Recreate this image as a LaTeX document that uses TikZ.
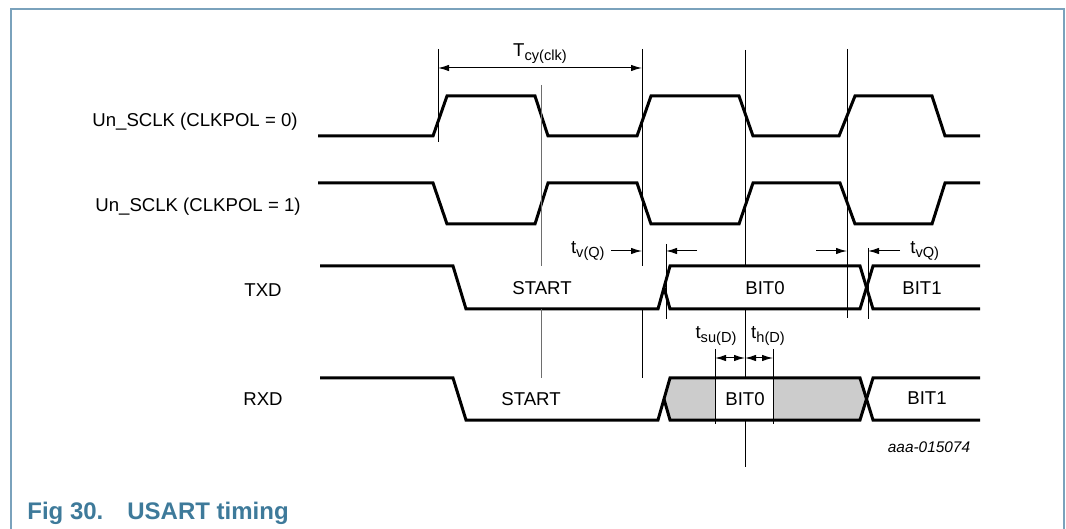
\documentclass[tikz,border=0pt]{standalone}
\usepackage{fontspec}
\setmainfont{Liberation Sans}
\usetikzlibrary{arrows.meta, positioning}
\definecolor{framecol}{RGB}{122,162,188}
\definecolor{captcol}{RGB}{62,122,154}
\definecolor{bitgray}{RGB}{204,204,204}
\definecolor{markgray}{RGB}{110,110,110}
\newcommand{\lowsub}[1]{\raisebox{-2pt}{\fontsize{7.3}{8}\selectfont #1}}
\tikzset{signal/.style={line width=1.5pt, line join=miter},
  marker/.style={line width=0.5pt},
  dim/.style={line width=0.5pt, >={Latex[length=5.5pt,width=3.2pt]}},
  lbl/.style={font=\fontsize{9.3}{11}\selectfont, inner sep=0pt}}
\begin{document}
\begin{tikzpicture}[x=0.5pt, y=-0.5pt]
  \useasboundingbox (0,0) rectangle (1066,529);
  % frame
  \draw[framecol, line width=1pt] (11,529) -- (11,9) -- (1064,9) -- (1064,529);

  % clock lines
  \draw[signal] (318,136) -- (433,136) -- (447,96) -- (535,96) -- (548,136) -- (637,136) -- (651,96) -- (739,96)
    -- (753,136) -- (839,136) -- (855,96) -- (932,96) -- (945,136) -- (980,136);
  \draw[signal] (318,183) -- (433,183) -- (447,224) -- (535,224) -- (548,183) -- (637,183) -- (651,224) -- (739,224)
    -- (753,183) -- (840,183) -- (855,224) -- (932,224) -- (945,183) -- (980,183);

  % TXD
  \draw[signal] (320,266) -- (453,266) -- (466,309) -- (658,309) -- (670,266) -- (860,266) -- (873,309) -- (980,309);
  \draw[signal] (664,287.5) -- (670,309) -- (860,309) -- (873,266) -- (980,266);

  % RXD
  \fill[bitgray] (664,399) -- (670,378) -- (860,378) -- (866.5,399) -- (860,420) -- (670,420) -- cycle;
  \fill[white] (715,378) rectangle (773,420);
  \draw[signal] (320,378) -- (453,378) -- (466,420) -- (658,420) -- (670,378) -- (860,378) -- (873,420) -- (980,420);
  \draw[signal] (664,399) -- (670,420) -- (860,420) -- (873,378) -- (980,378);

  % timing marks
  \draw[marker] (438,49) -- (438,142);
  \draw[marker] (642,49) -- (642,266) (642,309) -- (642,378);
  \draw[marker, markgray] (541,85) -- (541,266) (541,309) -- (541,378);
  \draw[marker] (745,50) -- (745,266) (745,309) -- (745,378) (745,420) -- (745,467);
  \draw[marker] (847,49) -- (847,318);
  \draw[marker] (666,244) -- (666,319);
  \draw[marker] (868,248) -- (868,319);
  \draw[marker] (715,349) -- (715,424);
  \draw[marker] (773,349) -- (773,424);

  \coordinate (cy_start) at (438,68);
  \coordinate (cy_end) at (642,68);
  \coordinate (vq_tail) at (611,251);
  \coordinate (vq_tip) at (642,251);
  \coordinate (vq_back_tail) at (697,251);
  \coordinate (vq_back_tip) at (666,251);
  \coordinate (vq2_tail) at (816,251);
  \coordinate (vq2_tip) at (847,251);
  \coordinate (vq2_back_tail) at (900,251);
  \coordinate (vq2_back_tip) at (868,251);
  \coordinate (su_start) at (715,358);
  \coordinate (su_end) at (745,358);
  \coordinate (h_end) at (773,358);

  \draw[dim, <->] (cy_start) -- (cy_end);
  \draw[dim, ->] (vq_tail) -- (vq_tip);
  \draw[dim, ->] (vq_back_tail) -- (vq_back_tip);
  \draw[dim, ->] (vq2_tail) -- (vq2_tip);
  \draw[dim, ->] (vq2_back_tail) -- (vq2_back_tip);
  \draw[dim, <->] (su_start) -- (su_end);
  \draw[dim, <->] (su_end) -- (h_end);

  % labels
  \node[lbl] (tcy_label) at (540,54) {T\lowsub{cy(clk)}};
  \node[lbl, left=3pt of vq_tail] (tvq_label) {t\lowsub{v(Q)}};
  \node[lbl, right=5pt of vq2_back_tail] (tvq2_label) {t\lowsub{vQ)}};
  \node[lbl] (tsu_label) at (716,336) {t\lowsub{su(D)}};
  \node[lbl] (th_label) at (768,336) {t\lowsub{h(D)}};

  \node[lbl, anchor=east] (sclk0_label) at (298,122) {Un\_SCLK (CLKPOL = 0)};
  \node[lbl, anchor=east] (sclk1_label) at (301,207) {Un\_SCLK (CLKPOL = 1)};
  \node[lbl] (txd_label) at (263,290) {TXD};
  \node[lbl] (rxd_label) at (263,399) {RXD};

  \node[lbl] (txd_start) at (542,288) {START};
  \node[lbl] (txd_bit0) at (765,288) {BIT0};
  \node[lbl] (txd_bit1) at (922,288) {BIT1};
  \node[lbl] (rxd_start) at (531,399) {START};
  \node[lbl] (rxd_bit0) at (745,399) {BIT0};
  \node[lbl] (rxd_bit1) at (927,398) {BIT1};

  \node[lbl, font=\fontsize{7.7}{9}\selectfont\itshape] (fig_code) at (929,447) {aaa-015074};
  \node[anchor=west, inner sep=0pt, text=captcol, font=\fontsize{12}{14}\selectfont\bfseries] (caption)
    at (27,513) {Fig 30.\hspace{12pt}USART timing};
\end{tikzpicture}
\end{document}
